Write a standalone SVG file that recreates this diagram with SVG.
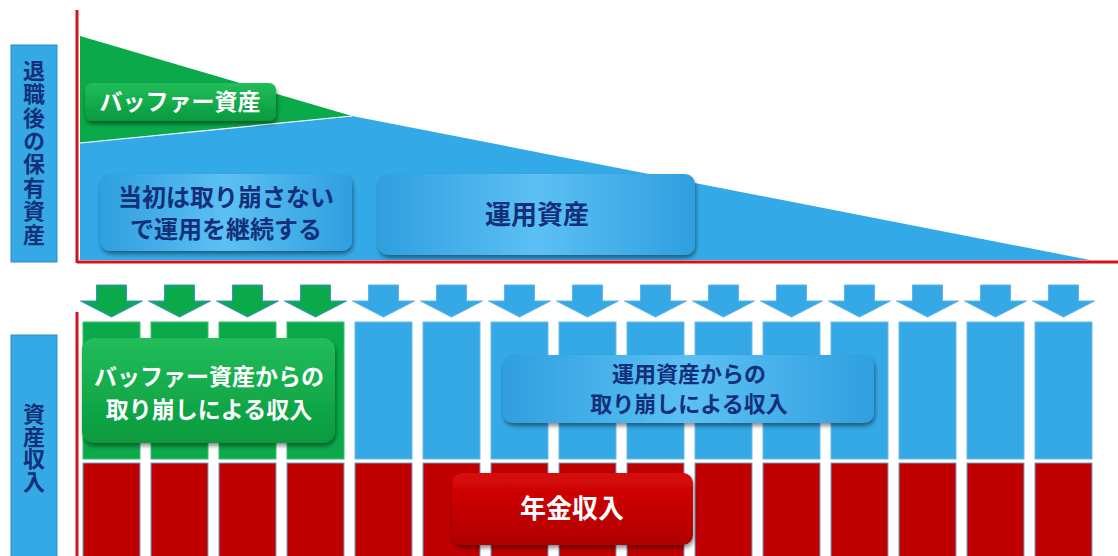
<svg xmlns="http://www.w3.org/2000/svg" width="1118" height="556" viewBox="0 0 1118 556">
<defs>
<style>
.jp{font-family:"Noto Sans CJK JP","Noto Sans CJK SC",sans-serif;font-weight:bold}
.navy{fill:#12307a}
.white{fill:#ffffff}
.side{fill:#35a9e6;stroke:#2a8cc8;stroke-width:1}
.bcol{fill:#34a9e6;stroke:#6bbbe9;stroke-width:1}
.gcol{fill:#0aa94a;stroke:#3fbf72;stroke-width:1}
.rcol{fill:#c00000;stroke:#6f9fd4;stroke-width:1}
.garr{fill:#0aa94a;stroke:#3c8fd0;stroke-width:1}
.barr{fill:#34a9e6;stroke:#5fb2e6;stroke-width:1}
.axis{stroke:#d0141e;stroke-width:3;fill:none}
</style>
<linearGradient id="gBlue" x1="0" y1="0" x2="1" y2="0">
<stop offset="0" stop-color="#2f9fdf"/><stop offset="0.5" stop-color="#5cc0f4"/><stop offset="1" stop-color="#2f9fdf"/>
</linearGradient>
<linearGradient id="gGreen" x1="0" y1="0" x2="0" y2="1">
<stop offset="0" stop-color="#22bd5a"/><stop offset="1" stop-color="#079a3e"/>
</linearGradient>
<linearGradient id="gRed" x1="0" y1="0" x2="0" y2="1">
<stop offset="0" stop-color="#d80808"/><stop offset="1" stop-color="#b00000"/>
</linearGradient>
<filter id="sh" x="-10%" y="-20%" width="120%" height="150%">
<feDropShadow dx="1" dy="3" stdDeviation="2" flood-color="#000" flood-opacity="0.45"/>
</filter>
</defs>

<g id="top-side-label">
<rect class="side" x="11" y="45" width="46" height="217"/>
<text class="jp navy" x="34" y="153" font-size="22" writing-mode="vertical-rl" text-anchor="middle" letter-spacing="1.4">退職後の保有資産</text>
</g>

<g id="assets-area">
<polygon points="80,36 352,116 80,143" fill="#0aa94a"/>
<polygon points="80,143 352,116 1090,260 80,260" fill="#33aae7"/>
<line x1="80" y1="143" x2="352" y2="116" stroke="#ffffff" stroke-width="1.2"/>
</g>

<g id="connectors">
<line class="axis" x1="77" y1="10" x2="77" y2="263"/>
<line class="axis" x1="77" y1="262" x2="1118" y2="262"/>
<line class="axis" x1="77" y1="312" x2="77" y2="556"/>
</g>

<g id="buffer-label">
<rect x="85" y="83" width="191" height="38" rx="7" fill="url(#gGreen)" filter="url(#sh)"/>
<text class="jp white" x="180" y="110" font-size="23" text-anchor="middle">バッファー資産</text>
</g>

<g id="initial-label">
<rect x="100" y="174" width="252" height="77" rx="10" fill="url(#gBlue)" filter="url(#sh)"/>
<text class="jp navy" x="226" y="206" font-size="24" text-anchor="middle">当初は取り崩さない</text>
<text class="jp navy" x="226" y="238" font-size="24" text-anchor="middle">で運用を継続する</text>
</g>

<g id="invest-label">
<rect x="378" y="174" width="317" height="81" rx="10" fill="url(#gBlue)" filter="url(#sh)"/>
<text class="jp navy" x="537" y="224" font-size="26" text-anchor="middle">運用資産</text>
</g>

<g id="bottom-side-label">
<rect class="side" x="11" y="335" width="46" height="225"/>
<text class="jp navy" x="34" y="448" font-size="22" writing-mode="vertical-rl" text-anchor="middle" letter-spacing="0.5">資産収入</text>
</g>

<g id="arrows">
<path class="garr" d="M96.5,285h30v16h16l-31,16l-31,-16h16z"/>
<path class="garr" d="M164.5,285h30v16h16l-31,16l-31,-16h16z"/>
<path class="garr" d="M232.5,285h30v16h16l-31,16l-31,-16h16z"/>
<path class="garr" d="M300.5,285h30v16h16l-31,16l-31,-16h16z"/>
<path class="barr" d="M368.5,285h30v16h16l-31,16l-31,-16h16z"/>
<path class="barr" d="M436.5,285h30v16h16l-31,16l-31,-16h16z"/>
<path class="barr" d="M504.5,285h30v16h16l-31,16l-31,-16h16z"/>
<path class="barr" d="M572.5,285h30v16h16l-31,16l-31,-16h16z"/>
<path class="barr" d="M640.5,285h30v16h16l-31,16l-31,-16h16z"/>
<path class="barr" d="M708.5,285h30v16h16l-31,16l-31,-16h16z"/>
<path class="barr" d="M776.5,285h30v16h16l-31,16l-31,-16h16z"/>
<path class="barr" d="M844.5,285h30v16h16l-31,16l-31,-16h16z"/>
<path class="barr" d="M912.5,285h30v16h16l-31,16l-31,-16h16z"/>
<path class="barr" d="M980.5,285h30v16h16l-31,16l-31,-16h16z"/>
<path class="barr" d="M1048.5,285h30v16h16l-31,16l-31,-16h16z"/>
</g>

<g id="withdraw-columns">
<rect class="gcol" x="83" y="322" width="57" height="137"/>
<rect class="gcol" x="151" y="322" width="57" height="137"/>
<rect class="gcol" x="219" y="322" width="57" height="137"/>
<rect class="gcol" x="287" y="322" width="57" height="137"/>
<rect class="bcol" x="355" y="322" width="57" height="137"/>
<rect class="bcol" x="423" y="322" width="57" height="137"/>
<rect class="bcol" x="491" y="322" width="57" height="137"/>
<rect class="bcol" x="559" y="322" width="57" height="137"/>
<rect class="bcol" x="627" y="322" width="57" height="137"/>
<rect class="bcol" x="695" y="322" width="57" height="137"/>
<rect class="bcol" x="763" y="322" width="57" height="137"/>
<rect class="bcol" x="831" y="322" width="57" height="137"/>
<rect class="bcol" x="899" y="322" width="57" height="137"/>
<rect class="bcol" x="967" y="322" width="57" height="137"/>
<rect class="bcol" x="1035" y="322" width="57" height="137"/>
</g>

<g id="pension-columns">
<rect class="rcol" x="83" y="463" width="57" height="100"/>
<rect class="rcol" x="151" y="463" width="57" height="100"/>
<rect class="rcol" x="219" y="463" width="57" height="100"/>
<rect class="rcol" x="287" y="463" width="57" height="100"/>
<rect class="rcol" x="355" y="463" width="57" height="100"/>
<rect class="rcol" x="423" y="463" width="57" height="100"/>
<rect class="rcol" x="491" y="463" width="57" height="100"/>
<rect class="rcol" x="559" y="463" width="57" height="100"/>
<rect class="rcol" x="627" y="463" width="57" height="100"/>
<rect class="rcol" x="695" y="463" width="57" height="100"/>
<rect class="rcol" x="763" y="463" width="57" height="100"/>
<rect class="rcol" x="831" y="463" width="57" height="100"/>
<rect class="rcol" x="899" y="463" width="57" height="100"/>
<rect class="rcol" x="967" y="463" width="57" height="100"/>
<rect class="rcol" x="1035" y="463" width="57" height="100"/>
</g>

<g id="buffer-income-label">
<rect x="82" y="338" width="253" height="105" rx="12" fill="url(#gGreen)" filter="url(#sh)"/>
<text class="jp white" x="209" y="385" font-size="23" text-anchor="middle">バッファー資産からの</text>
<text class="jp white" x="209" y="418" font-size="23" text-anchor="middle">取り崩しによる収入</text>
</g>

<g id="invest-income-label">
<rect x="503" y="355" width="371" height="68" rx="10" fill="url(#gBlue)" filter="url(#sh)"/>
<text class="jp navy" x="689" y="382" font-size="22" text-anchor="middle">運用資産からの</text>
<text class="jp navy" x="689" y="412" font-size="22" text-anchor="middle">取り崩しによる収入</text>
</g>

<g id="pension-label">
<rect x="452" y="473" width="241" height="72" rx="10" fill="url(#gRed)" filter="url(#sh)"/>
<text class="jp white" x="572" y="518" font-size="26" text-anchor="middle">年金収入</text>
</g>
</svg>
